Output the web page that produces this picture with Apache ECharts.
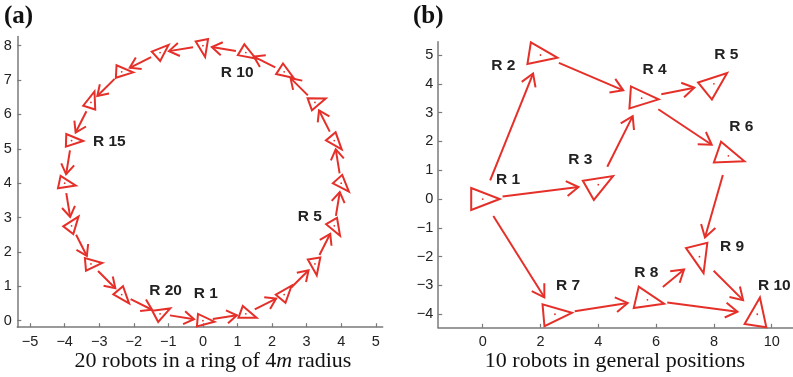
<!DOCTYPE html>
<html>
<head>
<meta charset="utf-8">
<script src="https://cdn.jsdelivr.net/npm/echarts@6/dist/echarts.min.js"></script>
<style>
html,body{margin:0;padding:0;background:#fff;}
#chart{width:793px;height:377px;}
</style>
</head>
<body>
<div id="chart"></div>
<script>
// ---------- Panel (a): 20 robots on a ring ----------
const ringX = [0, 1.24, 2.35, 3.24, 3.80, 4.00, 3.80, 3.24, 2.35, 1.24, 0, -1.24, -2.35, -3.24, -3.80, -4.00, -3.80, -3.24, -2.35, -1.24];
const ringY = [0, 0.20, 0.76, 1.65, 2.76, 4.00, 5.24, 6.35, 7.24, 7.80, 8.00, 7.80, 7.24, 6.35, 5.24, 4.00, 2.76, 1.65, 0.76, 0.20];
const ringHeading = [-5, -20, 50, -81, -60, -48, -50, 20, -33, -31, -79, 42, -3, 72, -2, -12, 53, 5, -50, 28];
const ringFrom = [1,2,3,4,5,6,7,8,9,10,11,12,13,14,15,16,17,18,19,20];
const ringTo   = [2,3,4,5,6,7,8,9,10,11,12,13,14,15,16,17,18,19,20,1];
const ringLabels = ['R 1', 'R 5', 'R 10', 'R 15', 'R 20'];
const ringLabelX = [0.08, 3.09, 0.99, -2.71, -1.08];
const ringLabelY = [0.77, 3.03, 7.21, 5.21, 0.86];
const ringTicksX = [-5, -4, -3, -2, -1, 0, 1, 2, 3, 4, 5];
const ringTicksY = [0, 1, 2, 3, 4, 5, 6, 7, 8];

// ---------- Panel (b): 10 robots in general positions ----------
const genX = [0, 2, 4, 5.5, 8, 8.5, 2.5, 5.7, 7.5, 9.5];
const genY = [0, 5, 0.5, 3.5, 4, 1.5, -4, -3.5, -2, -4];
const genHeading = [0, -9, 30, -4, 39, -19, 5, -13, -76, 81];
const genFrom = [1, 1, 1, 2, 3, 4, 4, 6, 7, 8, 8, 9];
const genTo   = [2, 3, 7, 4, 4, 5, 6, 9, 8, 9, 10, 10];
const genLabels = ['R 1', 'R 2', 'R 3', 'R 4', 'R 5', 'R 6', 'R 7', 'R 8', 'R 9', 'R 10'];
const genLabelX = [0.88, 0.71, 3.38, 5.95, 8.43, 8.95, 2.95, 5.66, 8.63, 10.09];
const genLabelY = [0.66, 4.63, 1.38, 4.50, 5.00, 2.51, -3.02, -2.56, -1.66, -3.02];
const genTicksX = [0, 2, 4, 6, 8, 10];
const genTicksY = [-4, -3, -2, -1, 0, 1, 2, 3, 4, 5];

const titleA = '20 robots in a ring of 4{i|m} radius';
const titleB = '10 robots in general positions';

// ---------- styling ----------
const RED = '#e5302a';
const AXIS = '#7a7a7a';
const TXT = '#222';
const SANS = 'Liberation Sans, Arial, Helvetica, sans-serif';
const SERIF = 'Liberation Serif, Times New Roman, serif';

function fmt(v) { return String(v).replace('-', '\u2212'); }

function triRender(fwd, back, half) {
  return function (params, api) {
    const c = api.coord([api.value(0), api.value(1)]);
    const a = api.value(2) * Math.PI / 180;
    const ux = Math.cos(a), uy = -Math.sin(a);
    const px = -uy, py = ux;
    const apex = [c[0] + ux * fwd, c[1] + uy * fwd];
    const b1 = [c[0] - ux * back + px * half, c[1] - uy * back + py * half];
    const b2 = [c[0] - ux * back - px * half, c[1] - uy * back - py * half];
    return {
      type: 'group',
      children: [
        { type: 'polygon', shape: { points: [apex, b1, b2] },
          style: { fill: 'none', stroke: RED, lineWidth: 2, lineJoin: 'miter' } },
        { type: 'circle', shape: { cx: c[0], cy: c[1], r: 0.9 }, style: { fill: RED } }
      ]
    };
  };
}

function arrowRender(startOff, endOff, wing, deg) {
  return function (params, api) {
    const p1 = api.coord([api.value(0), api.value(1)]);
    const p2 = api.coord([api.value(2), api.value(3)]);
    const dx = p2[0] - p1[0], dy = p2[1] - p1[1];
    const L = Math.sqrt(dx * dx + dy * dy);
    const ux = dx / L, uy = dy / L;
    const s = [p1[0] + ux * startOff, p1[1] + uy * startOff];
    const e = [p2[0] - ux * endOff, p2[1] - uy * endOff];
    const ang = deg * Math.PI / 180;
    const bx = -ux, by = -uy;
    const w1 = [e[0] + wing * (bx * Math.cos(ang) - by * Math.sin(ang)), e[1] + wing * (bx * Math.sin(ang) + by * Math.cos(ang))];
    const w2 = [e[0] + wing * (bx * Math.cos(-ang) - by * Math.sin(-ang)), e[1] + wing * (bx * Math.sin(-ang) + by * Math.cos(-ang))];
    return {
      type: 'group',
      children: [
        { type: 'polyline', shape: { points: [s, e] }, style: { stroke: RED, lineWidth: 2, fill: 'none' } },
        { type: 'polyline', shape: { points: [w1, e, w2] }, style: { stroke: RED, lineWidth: 2, fill: 'none' } }
      ]
    };
  };
}

function labelRender(texts) {
  return function (params, api) {
    const c = api.coord([api.value(0), api.value(1)]);
    return {
      type: 'text',
      x: c[0], y: c[1],
      style: {
        text: texts[params.dataIndex],
        font: 'bold 15.5px ' + SANS,
        fill: TXT,
        align: 'center', verticalAlign: 'middle',
        textAlign: 'center', textVerticalAlign: 'middle'
      }
    };
  };
}

function xAxisDef(gi, min, max, ticks) {
  return {
    type: 'value', gridIndex: gi, min: min, max: max,
    axisLine: { show: true, onZero: false, lineStyle: { color: AXIS, width: 1.5 } },
    axisTick: { show: true, inside: true, length: 4, customValues: ticks, lineStyle: { color: AXIS, width: 1.2 } },
    axisLabel: { show: true, customValues: ticks, margin: 7, color: TXT, fontSize: 14.5, fontFamily: SANS, formatter: fmt },
    splitLine: { show: false }
  };
}
function yAxisDef(gi, min, max, ticks, margin) {
  return {
    type: 'value', gridIndex: gi, min: min, max: max,
    axisLine: { show: true, onZero: false, lineStyle: { color: AXIS, width: 1.5 } },
    axisTick: { show: true, inside: true, length: 4, customValues: ticks, lineStyle: { color: AXIS, width: 1.2 } },
    axisLabel: { show: true, customValues: ticks, margin: margin, color: TXT, fontSize: 14.5, fontFamily: SANS, formatter: fmt },
    splitLine: { show: false }
  };
}

const ringNodes = ringX.map((x, i) => [x, ringY[i], ringHeading[i]]);
const ringLinks = ringFrom.map((f, i) => [ringX[f - 1], ringY[f - 1], ringX[ringTo[i] - 1], ringY[ringTo[i] - 1]]);
const ringLabelData = ringLabelX.map((x, i) => [x, ringLabelY[i]]);
const genNodes = genX.map((x, i) => [x, genY[i], genHeading[i]]);
const genLinks = genFrom.map((f, i) => [genX[f - 1], genY[f - 1], genX[genTo[i] - 1], genY[genTo[i] - 1]]);
const genLabelData = genLabelX.map((x, i) => [x, genLabelY[i]]);

const chart = echarts.init(document.getElementById('chart'), null, { renderer: 'canvas' });
chart.setOption({
  animation: false,
  backgroundColor: '#fff',
  title: [
    { text: '(a)', left: 4, top: 4, padding: 0,
      textStyle: { fontFamily: SERIF, fontSize: 25, fontWeight: 'bold', color: '#111' } },
    { text: '(b)', left: 413, top: 4, padding: 0,
      textStyle: { fontFamily: SERIF, fontSize: 25, fontWeight: 'bold', color: '#111' } },
    { text: titleA, left: 213, top: 350, textAlign: 'center', padding: 0,
      textStyle: { fontFamily: SERIF, fontSize: 22, fontWeight: 'normal', color: '#111',
        rich: { i: { fontFamily: SERIF, fontSize: 22, fontStyle: 'italic', color: '#111' } } } },
    { text: titleB, left: 615, top: 350, textAlign: 'center', padding: 0,
      textStyle: { fontFamily: SERIF, fontSize: 22, fontWeight: 'normal', color: '#111' } }
  ],
  grid: [
    { left: 17.3, top: 36.4, width: 365.4, height: 290.8, containLabel: false, outerBoundsMode: 'none' },
    { left: 438.2, top: 41.75, width: 354.9, height: 286.05, containLabel: false, outerBoundsMode: 'none' }
  ],
  xAxis: [
    xAxisDef(0, -5.37, 5.2, ringTicksX),
    xAxisDef(1, -1.54, 10.74, genTicksX)
  ],
  yAxis: [
    yAxisDef(0, -0.19, 8.27, ringTicksY, 5.5),
    yAxisDef(1, -4.47, 5.46, genTicksY, 5)
  ],
  series: [
    { type: 'custom', xAxisIndex: 0, yAxisIndex: 0, data: ringLinks, encode: { x: [0, 2], y: [1, 3] },
      renderItem: arrowRender(10, 9, 12, 33), clip: false, silent: true },
    { type: 'custom', xAxisIndex: 0, yAxisIndex: 0, data: ringNodes, encode: { x: 0, y: 1 },
      renderItem: triRender(11.5, 5.5, 6.3), clip: false, silent: true },
    { type: 'custom', xAxisIndex: 0, yAxisIndex: 0, data: ringLabelData, encode: { x: 0, y: 1 },
      renderItem: labelRender(ringLabels), clip: false, silent: true },
    { type: 'custom', xAxisIndex: 1, yAxisIndex: 1, data: genLinks, encode: { x: [0, 2], y: [1, 3] },
      renderItem: arrowRender(20, 20, 14, 32), clip: false, silent: true },
    { type: 'custom', xAxisIndex: 1, yAxisIndex: 1, data: genNodes, encode: { x: 0, y: 1 },
      renderItem: triRender(17, 11.5, 11), clip: false, silent: true },
    { type: 'custom', xAxisIndex: 1, yAxisIndex: 1, data: genLabelData, encode: { x: 0, y: 1 },
      renderItem: labelRender(genLabels), clip: false, silent: true }
  ]
});
</script>
</body>
</html>
